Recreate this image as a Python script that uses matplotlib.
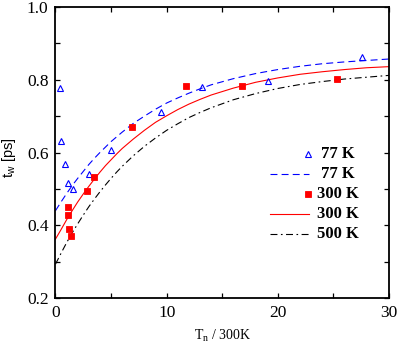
import matplotlib
matplotlib.use("Agg")
import matplotlib.pyplot as plt
from matplotlib.ticker import MultipleLocator

plt.rcParams['mathtext.default'] = 'regular'
plt.rcParams['lines.scale_dashes'] = False

# Measured relaxation times, 77 K
x77 = [0.4, 0.52, 0.88, 1.15, 1.55, 3.05, 5.0, 9.5, 13.2, 19.1, 27.6]
y77 = [0.778, 0.633, 0.568, 0.517, 0.499, 0.541, 0.608, 0.710, 0.781, 0.797, 0.863]

# Measured relaxation times, 300 K
x300 = [1.12, 1.17, 1.25, 1.43, 2.8, 3.5, 6.85, 11.76, 16.8, 25.3]
y300 = [0.451, 0.429, 0.391, 0.370, 0.493, 0.533, 0.671, 0.783, 0.784, 0.801]

# Model curves
xc = [0, 0.5, 1, 1.5, 2, 2.5, 3, 3.5, 4, 4.5, 5, 5.5, 6, 7, 8, 9, 10, 11, 12, 13, 14,
      16, 18, 20, 22, 24, 26, 28, 30]
c77 = [0.440, 0.464, 0.487, 0.509, 0.529, 0.548, 0.567, 0.584, 0.600, 0.615, 0.630,
       0.643, 0.656, 0.680, 0.700, 0.719, 0.736, 0.750, 0.763, 0.775, 0.786,
       0.803, 0.817, 0.828, 0.837, 0.844, 0.849, 0.853, 0.857]
c300 = [0.362, 0.388, 0.415, 0.440, 0.464, 0.486, 0.507, 0.527, 0.546, 0.564, 0.580,
        0.596, 0.611, 0.637, 0.661, 0.683, 0.701, 0.718, 0.733, 0.746, 0.758,
        0.777, 0.793, 0.805, 0.815, 0.822, 0.828, 0.833, 0.836]
c500 = [0.293, 0.323, 0.352, 0.379, 0.404, 0.428, 0.451, 0.472, 0.492, 0.511, 0.529,
        0.546, 0.562, 0.591, 0.617, 0.640, 0.661, 0.679, 0.696, 0.710, 0.723,
        0.745, 0.762, 0.776, 0.787, 0.795, 0.802, 0.807, 0.812]

legend_labels = ['77 K', '77 K', '300 K', '300 K', '500 K']

fig = plt.figure(figsize=(3.99, 3.49), dpi=100)
ax = fig.add_axes([0.139, 0.146, 0.836, 0.834])

lw = 0.8
blue_dash = (0, (5.0, 3.0))
dashdot = (0, (5.0, 2.5, 1.2, 2.5))

tri_kw = dict(marker='^', ms=4.6, mfc='none', mec='#0000ff', mew=0.8, ls='none')
sq_kw = dict(marker='s', ms=4.2, mfc='#ff0000', mec='#ff0000', mew=0.6, ls='none')

ax.plot(xc, c77, color='#0000ff', lw=lw, ls=blue_dash)
ax.plot(xc, c300, color='#ff0000', lw=lw, ls='-')
ax.plot(xc, c500, color='black', lw=lw, ls=dashdot)
ax.plot(x77, y77, **tri_kw)
ax.plot(x300, y300, **sq_kw)

ax.set_xlim(0, 30)
ax.set_ylim(0.2, 1.0)
ax.xaxis.set_major_locator(MultipleLocator(10))
ax.xaxis.set_minor_locator(MultipleLocator(5))
ax.yaxis.set_major_locator(MultipleLocator(0.2))
ax.yaxis.set_minor_locator(MultipleLocator(0.1))
ax.tick_params(which='both', direction='in', top=True, right=True,
               length=3.6, width=0.9)
for s in ax.spines.values():
    s.set_linewidth(1.3)

tick_font = dict(family='Liberation Serif', size=12.5)
ax.set_xticks([0, 10, 20, 30])
ax.set_xticklabels(['0', '10', '20', '30'], fontdict=tick_font)
ax.set_yticks([0.2, 0.4, 0.6, 0.8, 1.0])
ax.set_yticklabels(['0.2', '0.4', '0.6', '0.8', '1.0'], fontdict=tick_font)
ax.tick_params(axis='x', pad=5)
ax.tick_params(axis='y', pad=5)

ax.set_xlabel(r'T$_n$ / 300K', family='Liberation Serif', fontsize=10, labelpad=5)
ax.set_ylabel(r't$_w$ [ps]', family='Liberation Sans', fontsize=10.5)
ax.yaxis.set_label_coords(-0.113, 0.483)

# Key, drawn in axes coordinates
rows_y = [0.4955, 0.427, 0.3585, 0.2887, 0.2216]
hx0, hx1, mx, tx = 0.643, 0.760, 0.757, 0.847
tr = ax.transAxes
ax.plot([mx], [rows_y[0]], transform=tr, clip_on=False, **tri_kw)
ax.plot([hx0, hx1], [rows_y[1]] * 2, transform=tr, color='#0000ff', lw=lw, ls=blue_dash)
ax.plot([mx], [rows_y[2]], transform=tr, clip_on=False, **sq_kw)
ax.plot([hx0, hx1], [rows_y[3]] * 2, transform=tr, color='#ff0000', lw=lw, ls='-')
ax.plot([hx0, hx1], [rows_y[4]] * 2, transform=tr, color='black', lw=lw, ls=dashdot)
for yy, lab in zip(rows_y, legend_labels):
    ax.text(tx, yy, lab, transform=tr, ha='center', va='center',
            family='Liberation Serif', fontweight='bold', fontsize=12)

fig.savefig('out.png', dpi=100)
